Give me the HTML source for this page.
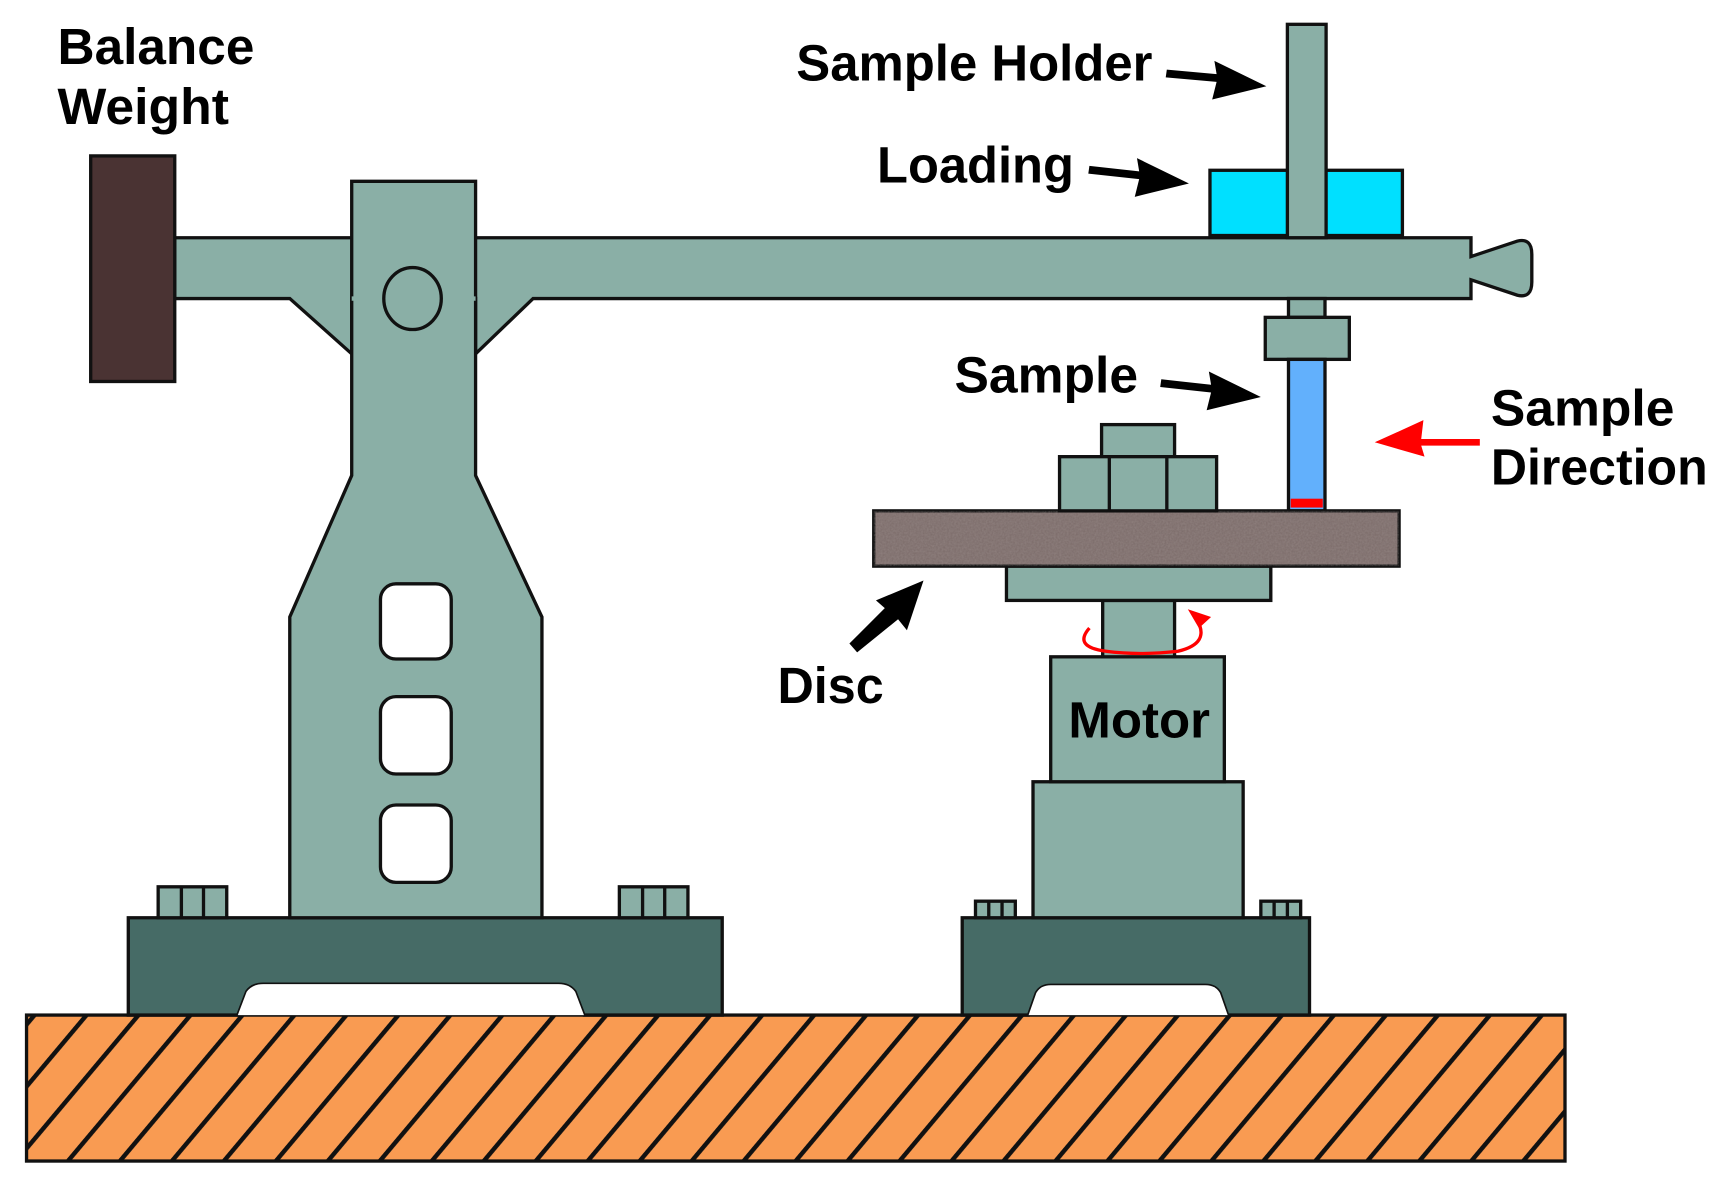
<!DOCTYPE html>
<html><head><meta charset="utf-8"><style>html,body{margin:0;padding:0;background:#fff}svg{display:block}</style></head>
<body>
<svg width="1732" height="1192" viewBox="0 0 1566 1078" preserveAspectRatio="none" xmlns="http://www.w3.org/2000/svg">
<defs>
<pattern id="h" patternUnits="userSpaceOnUse" width="36" height="36" patternTransform="rotate(40)">
<rect width="36" height="36" fill="#f99b52"/><rect x="0" y="0" width="4" height="36" fill="#111"/>
</pattern>
<filter id="n"><feTurbulence type="fractalNoise" baseFrequency="0.6" numOctaves="2" result="t"/><feColorMatrix type="matrix" values="0 0 0 0 0.47 0 0 0 0 0.41 0 0 0 0 0.40 0 0 0 0.35 0" /><feComposite in2="SourceGraphic" operator="in"/></filter>
</defs>
<g stroke="#111" stroke-width="3" fill="#8aafa6">
<rect x="24" y="918" width="1391" height="132" fill="url(#h)"/>
<path d="M116 830 H653 V918 H528 L520 897 Q515 890 505 890 H238 Q228 890 223 897 L215 918 H116 Z" fill="#466b66"/>
<path d="M215 918 L223 897 Q228 890 238 890 H505 Q515 890 520 897 L528 918 Z" fill="#fff" stroke="none"/>
<path d="M870 830 H1184 V918 H1110 L1103 898 Q1099 891 1090 891 H950 Q941 891 937 898 L930 918 H870 Z" fill="#466b66"/>
<path d="M930 918 L937 898 Q941 891 950 891 H1090 Q1099 891 1103 898 L1110 918 Z" fill="#fff" stroke="none"/>
<rect x="143" y="802" width="62" height="28"/><line x1="164" y1="802" x2="164" y2="830"/><line x1="184" y1="802" x2="184" y2="830"/>
<rect x="560" y="802" width="62" height="28"/><line x1="581" y1="802" x2="581" y2="830"/><line x1="601" y1="802" x2="601" y2="830"/>
<rect x="882" y="815" width="36" height="15"/><line x1="894" y1="815" x2="894" y2="830"/><line x1="906" y1="815" x2="906" y2="830"/>
<rect x="1140" y="815" width="36" height="15"/><line x1="1152" y1="815" x2="1152" y2="830"/><line x1="1164" y1="815" x2="1164" y2="830"/>
<path d="M158 215 H1330 V232 L1372 218 Q1385 215 1385 230 V255 Q1385 270 1372 267 L1330 253 V270 H482 L430 320 V270 H318 V320 L262 270 H158 Z"/>
<path d="M318 164 H430 V430 L490 558 V830 H262 V558 L318 430 Z"/>
<line x1="318" y1="270" x2="430" y2="270" stroke="#8aafa6" stroke-width="4"/>
<ellipse cx="373" cy="270" rx="26" ry="28" fill="none"/>
<rect x="344" y="528" width="64" height="68" rx="14" fill="#fff"/>
<rect x="344" y="630" width="64" height="70" rx="14" fill="#fff"/>
<rect x="344" y="728" width="64" height="70" rx="14" fill="#fff"/>
<rect x="82" y="141" width="76" height="204" fill="#4a3333"/>
<rect x="1094" y="154" width="174" height="59" fill="#00e0ff"/>
<rect x="1164" y="22" width="35" height="193"/>
<rect x="1165" y="270" width="33" height="17"/>
<rect x="1144" y="287" width="76" height="38"/>
<rect x="1165" y="325" width="33" height="137" fill="#62b0fc"/>
<rect x="1167" y="451" width="29" height="8" fill="#f00" stroke="none"/>
<rect x="934" y="707" width="190" height="123"/>
<rect x="950" y="594" width="157" height="113"/>
<rect x="997" y="543" width="65" height="51"/>
<rect x="910" y="512" width="239" height="31"/>
<rect x="790" y="462" width="475" height="50" fill="#7a6a68"/>
<rect x="790" y="462" width="475" height="50" fill="#9a8a88" filter="url(#n)" stroke="none"/>
<rect x="996" y="384" width="66" height="29"/>
<rect x="958" y="413" width="142" height="49"/>
<line x1="1003" y1="413" x2="1003" y2="462"/><line x1="1055" y1="413" x2="1055" y2="462"/>
</g>
<path d="M985 568 Q970 585 1000 589 Q1030 593 1065 589 Q1095 582 1082 560" fill="none" stroke="#f00" stroke-width="3"/>
<path d="M1074 551 L1095 558 L1084 568 Z" fill="#f00"/>
<g fill="#000">
<path d="M1055 63 L1100 67 L1098 55 L1145 78 L1096 90 L1100 74 L1054 70 Z"/>
<path d="M985 150 L1030 155 L1028 143 L1075 166 L1026 178 L1030 162 L984 157 Z"/>
<path d="M1050 343 L1095 348 L1093 336 L1140 359 L1091 371 L1095 355 L1049 350 Z"/>
<path d="M768 582 L800 550 L792 543 L835 525 L820 570 L812 560 L775 590 Z"/>
</g>
<path d="M1338 397 H1285 L1287 380 L1243 400 L1288 413 L1285 403 H1338 Z" fill="#f00"/>
<g font-family="Liberation Sans, sans-serif" font-weight="bold" fill="#000">
<text x="52" y="58" font-size="46" textLength="178" lengthAdjust="spacingAndGlyphs">Balance</text>
<text x="52" y="112" font-size="46" textLength="155" lengthAdjust="spacingAndGlyphs">Weight</text>
<text x="720" y="73" font-size="46" textLength="322" lengthAdjust="spacingAndGlyphs">Sample Holder</text>
<text x="793" y="165" font-size="46" textLength="178" lengthAdjust="spacingAndGlyphs">Loading</text>
<text x="863" y="355" font-size="46" textLength="166" lengthAdjust="spacingAndGlyphs">Sample</text>
<text x="703" y="636" font-size="46" textLength="96" lengthAdjust="spacingAndGlyphs">Disc</text>
<text x="966" y="667" font-size="46" textLength="128" lengthAdjust="spacingAndGlyphs">Motor</text>
<text x="1348" y="385" font-size="46" textLength="166" lengthAdjust="spacingAndGlyphs">Sample</text>
<text x="1348" y="438" font-size="46" textLength="196" lengthAdjust="spacingAndGlyphs">Direction</text>
</g>
</svg>
</body></html>
